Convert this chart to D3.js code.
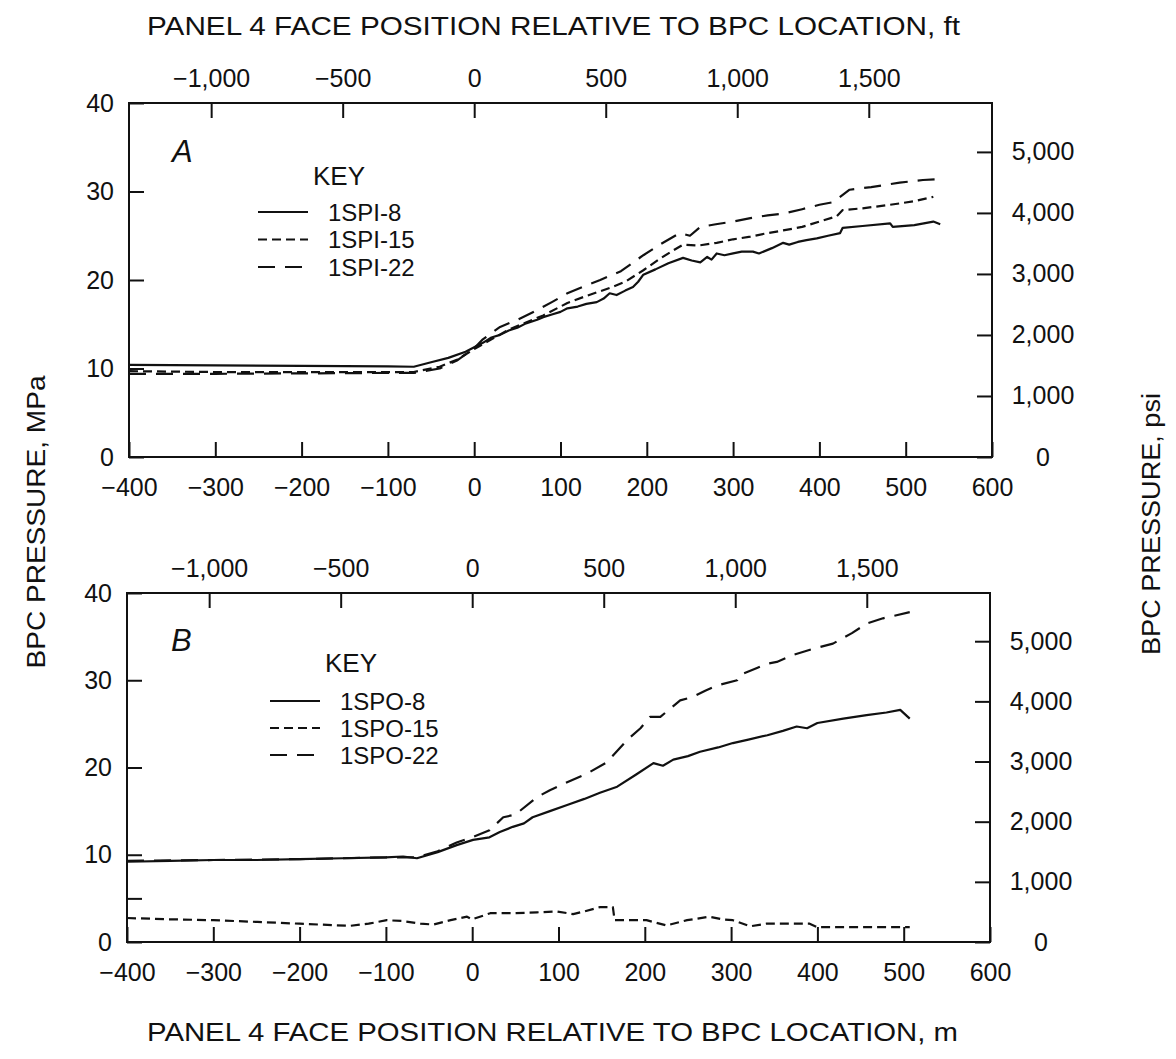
<!DOCTYPE html>
<html>
<head>
<meta charset="utf-8">
<script src="https://cdn.jsdelivr.net/npm/d3@7"></script>
<style>
  html, body { margin: 0; padding: 0; background: #fff; }
  svg { display: block; }
  text { font-family: "Liberation Sans", Arial, Helvetica, sans-serif; fill: #111; }
</style>
</head>
<body>
<svg id="chart" width="1176" height="1059"></svg>
<script>
// Face position (m) vs BPC pressure (MPa) for each gauge
const spi8 = [[-400,10.4],[-300,10.35],[-200,10.3],[-100,10.25],[-70,10.2],[-50,10.7],[-30,11.2],[-10,11.9],[0,12.4],[10,12.9],[20,13.5],[30,13.8],[40,14.3],[50,14.6],[60,15.1],[73,15.5],[80,15.8],[90,16.1],[100,16.4],[108,16.8],[120,17.0],[130,17.3],[142,17.5],[150,17.9],[157,18.5],[165,18.3],[175,18.8],[184,19.2],[190,19.8],[196,20.6],[210,21.2],[225,21.9],[242,22.5],[252,22.2],[262,22.0],[270,22.6],[275,22.3],[281,23.0],[290,22.8],[300,23.0],[310,23.2],[323,23.2],[330,23.0],[345,23.6],[358,24.2],[365,24.0],[375,24.3],[385,24.5],[397,24.7],[410,25.0],[424,25.3],[427,25.9],[450,26.1],[482,26.4],[485,26.0],[510,26.2],[532,26.6],[540,26.3]];
const spi15 = [[-400,9.7],[-300,9.6],[-200,9.6],[-100,9.6],[-70,9.6],[-40,10.2],[-20,11.0],[0,12.2],[20,13.3],[40,14.4],[60,15.2],[80,16.0],[108,17.4],[130,18.2],[157,19.1],[175,19.8],[196,21.1],[215,22.4],[230,23.3],[242,24.0],[260,23.9],[281,24.2],[300,24.6],[320,24.9],[340,25.3],[358,25.6],[380,26.0],[400,26.6],[420,27.2],[427,27.9],[450,28.1],[482,28.5],[510,28.9],[532,29.4]];
const spi22 = [[-400,9.4],[-300,9.4],[-200,9.45],[-100,9.5],[-70,9.5],[-40,10.0],[-20,10.9],[0,12.3],[10,13.3],[30,14.7],[50,15.5],[73,16.6],[90,17.5],[108,18.5],[125,19.2],[146,20.0],[170,21.0],[196,22.8],[215,24.0],[238,25.3],[250,25.0],[262,26.0],[280,26.3],[300,26.6],[320,27.0],[340,27.3],[358,27.5],[380,28.0],[400,28.5],[416,28.8],[435,30.2],[460,30.5],[493,31.0],[520,31.3],[540,31.4]];

const spo8 = [[-400,9.2],[-350,9.3],[-300,9.4],[-250,9.4],[-200,9.5],[-150,9.6],[-100,9.7],[-80,9.8],[-64,9.6],[-40,10.3],[-18,11.1],[1,11.7],[20,12.0],[32,12.6],[47,13.2],[60,13.6],[70,14.3],[90,15.0],[110,15.7],[130,16.4],[148,17.1],[168,17.8],[190,19.2],[210,20.5],[221,20.2],[233,20.9],[250,21.3],[264,21.8],[285,22.3],[302,22.8],[320,23.2],[342,23.7],[360,24.2],[376,24.7],[388,24.5],[400,25.1],[430,25.6],[457,26.0],[480,26.3],[496,26.6],[507,25.6]];
const spo15 = [[-400,2.75],[-350,2.6],[-300,2.5],[-249,2.3],[-200,2.1],[-142,1.85],[-120,2.1],[-99,2.5],[-80,2.4],[-60,2.1],[-45,2.0],[-25,2.5],[-6,2.9],[0,2.6],[21,3.3],[50,3.3],[75,3.4],[98,3.5],[117,3.2],[130,3.5],[148,4.0],[163,4.0],[165,2.5],[202,2.5],[225,1.9],[249,2.5],[275,2.9],[290,2.6],[302,2.5],[322,1.8],[341,2.1],[391,2.1],[400,1.7],[457,1.7],[507,1.7]];
const spo22 = [[-400,9.3],[-300,9.4],[-200,9.5],[-100,9.7],[-64,9.7],[-40,10.4],[-18,11.4],[0,12.0],[20,12.8],[36,14.3],[50,14.6],[75,16.6],[90,17.4],[110,18.3],[133,19.3],[156,20.6],[179,23.1],[195,24.5],[206,25.8],[218,25.8],[241,27.7],[256,28.1],[270,28.8],[284,29.4],[307,30.0],[310,30.6],[330,31.4],[342,31.9],[353,32.1],[372,32.9],[395,33.6],[418,34.2],[440,35.4],[457,36.5],[476,37.1],[507,37.8]];

// Tick values
const mTicks = [-400,-300,-200,-100,0,100,200,300,400,500,600];
const ftTicks = [-1000,-500,0,500,1000,1500];
const mpaTicks = [0,10,20,30,40];
const psiTicks = [0,1000,2000,3000,4000,5000];

const labelsA = ["1SPI-8","1SPI-15","1SPI-22"];
const labelsB = ["1SPO-8","1SPO-15","1SPO-22"];

const FT = 0.3048;          // m per ft
const MPA_PER_PSI = 0.00689476;

const dashes = [null, "9,5", "17,10"];

const svg = d3.select("#chart");
const fmt = d3.format(",");

function panel(cfg) {
  const g = svg.append("g");
  const x = d3.scaleLinear().domain([-400, 600]).range([cfg.left, cfg.right]);
  const xft = d3.scaleLinear().domain([-400 / FT, 600 / FT]).range([cfg.left, cfg.right]);
  const y = d3.scaleLinear().domain([0, 40]).range([cfg.bottom, cfg.top]);
  const ypsi = d3.scaleLinear().domain([0, 40 / MPA_PER_PSI]).range([cfg.bottom, cfg.top]);

  const style = sel => {
    sel.select(".domain").remove();
    sel.selectAll("line").attr("stroke", "#111").attr("stroke-width", 2);
    sel.selectAll("text").style("font-size", "25px").attr("fill", "#111");
  };

  g.append("g").attr("transform", `translate(0,${cfg.bottom})`)
    .call(d3.axisBottom(x).tickValues(mTicks).tickSize(-15).tickPadding(21).tickFormat(fmt))
    .call(style);
  g.append("g").attr("transform", `translate(0,${cfg.top})`)
    .call(d3.axisTop(xft).tickValues(ftTicks).tickSize(-15).tickPadding(16).tickFormat(fmt))
    .call(style);
  g.append("g").attr("transform", `translate(${cfg.left},0)`)
    .call(d3.axisLeft(y).tickValues(mpaTicks).tickSize(-15).tickPadding(15).tickFormat(fmt))
    .call(style);
  if (cfg.minorLeft) {
    g.append("g").attr("transform", `translate(${cfg.left},0)`)
      .call(d3.axisLeft(y).tickValues(cfg.minorLeft).tickSize(-15).tickFormat(""))
      .call(style);
  }
  const ra = g.append("g").attr("transform", `translate(${cfg.right},0)`)
    .call(d3.axisRight(ypsi).tickValues(psiTicks).tickSize(-15).tickPadding(51).tickFormat(fmt))
    .call(style);
  ra.selectAll("text").attr("text-anchor", "middle");

  // frame
  g.append("rect")
    .attr("x", cfg.left).attr("y", cfg.top)
    .attr("width", cfg.right - cfg.left).attr("height", cfg.bottom - cfg.top)
    .attr("fill", "none").attr("stroke", "#111").attr("stroke-width", 2);

  const line = d3.line().x(d => x(d[0])).y(d => y(d[1]));
  cfg.series.forEach((s, i) => {
    g.append("path").datum(s)
      .attr("d", line)
      .attr("fill", "none").attr("stroke", "#111").attr("stroke-width", 2.2)
      .attr("stroke-linejoin", "round")
      .attr("stroke-dasharray", dashes[i]);
  });

  // panel letter
  g.append("text").attr("x", cfg.letterX).attr("y", cfg.letterY)
    .style("font-size", "31px").style("font-style", "italic").text(cfg.letter);

  // key
  g.append("text").attr("x", cfg.keyX).attr("y", cfg.keyY)
    .style("font-size", "26px").text("KEY");
  cfg.labels.forEach((lab, i) => {
    const ly = cfg.rowY[i];
    g.append("line")
      .attr("x1", cfg.lineX).attr("x2", cfg.lineX + 50)
      .attr("y1", ly).attr("y2", ly)
      .attr("stroke", "#111").attr("stroke-width", 2.2)
      .attr("stroke-dasharray", dashes[i]);
    g.append("text").attr("x", cfg.textX).attr("y", ly).attr("dy", "0.36em")
      .style("font-size", "24px").text(lab);
  });
}

panel({
  left: 129, right: 992, top: 103, bottom: 457,
  series: [spi8, spi15, spi22], labels: labelsA,
  letter: "A", letterX: 172, letterY: 162,
  keyX: 313, keyY: 185, lineX: 258, textX: 328, rowY: [212, 239.5, 267]
});
panel({
  left: 127, right: 990, top: 593, bottom: 942,
  series: [spo8, spo15, spo22], labels: labelsB, minorLeft: [5],
  letter: "B", letterX: 171, letterY: 651,
  keyX: 325, keyY: 672, lineX: 270, textX: 340, rowY: [701, 728, 755]
});

// axis titles
svg.append("text").attr("x", 147).attr("y", 35)
  .attr("textLength", 813).attr("lengthAdjust", "spacingAndGlyphs")
  .style("font-size", "25px").text("PANEL 4 FACE POSITION RELATIVE TO BPC LOCATION, ft");
svg.append("text").attr("x", 147).attr("y", 1041)
  .attr("textLength", 811).attr("lengthAdjust", "spacingAndGlyphs")
  .style("font-size", "25px").text("PANEL 4 FACE POSITION RELATIVE TO BPC LOCATION, m");
svg.append("text")
  .attr("transform", "translate(45,522) rotate(-90)")
  .attr("text-anchor", "middle")
  .attr("textLength", 293).attr("lengthAdjust", "spacingAndGlyphs")
  .style("font-size", "25px").text("BPC PRESSURE, MPa");
svg.append("text")
  .attr("transform", "translate(1160,524) rotate(-90)")
  .attr("text-anchor", "middle")
  .attr("textLength", 262).attr("lengthAdjust", "spacingAndGlyphs")
  .style("font-size", "25px").text("BPC PRESSURE, psi");
</script>
</body>
</html>
